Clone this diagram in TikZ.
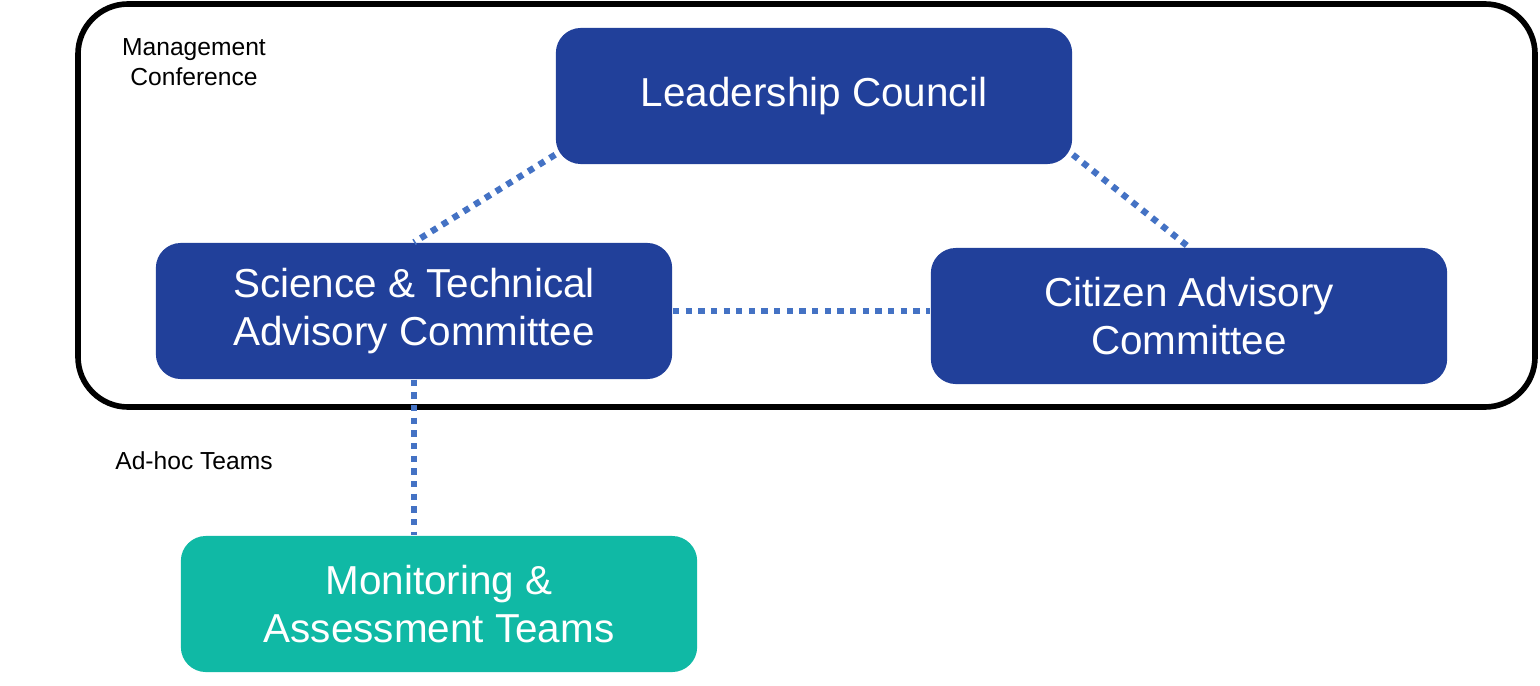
\documentclass[tikz,border=0pt]{standalone}
\usepackage{fontspec}
\setmainfont{Liberation Sans}
\usetikzlibrary{positioning}
\definecolor{darkblue}{HTML}{21409A}
\definecolor{teamgreen}{HTML}{10B9A5}
\definecolor{linkblue}{HTML}{4472C4}
\begin{document}
\begin{tikzpicture}[x=0.01cm, y=-0.01cm,
  box/.style={rectangle, rounded corners=0.25cm, fill=darkblue, text=white, minimum height=1.36cm, minimum width=5.16cm, align=center, font=\fontsize{11.5}{13.5}\selectfont},
  link/.style={linkblue, line width=1.8pt, dash pattern=on 1.8pt off 1.8pt}]
\useasboundingbox (0,0) rectangle (1540,685);
\draw[line width=1.6pt, rounded corners=0.5cm] (78,4) rectangle (1535,407);
\node[font=\fontsize{7}{8.5}\selectfont, align=center] (mgmt) at (194,62) {Management\\Conference};
\node[font=\fontsize{7}{8.5}\selectfont] (adhoc) at (194,461) {Ad-hoc Teams};
\node[box] (council) at (814,96) {Leadership Council};
\node[box] (stac) at (414,311) {Science \& Technical\\Advisory Committee};
\node[box] (cac) at (1189,316) {Citizen Advisory\\Committee};
\node[box, fill=teamgreen] (teams) at (439,604) {Monitoring \&\\Assessment Teams};
\draw[link] ([yshift=0.1cm]council.south west) -- (stac.north);
\draw[link] ([yshift=0.1cm]council.south east) -- (cac.north);
\draw[link] (stac.east) -- (stac.east -| cac.west);
\draw[link] (stac.south) -- (stac.south |- teams.north);
\end{tikzpicture}
\end{document}
